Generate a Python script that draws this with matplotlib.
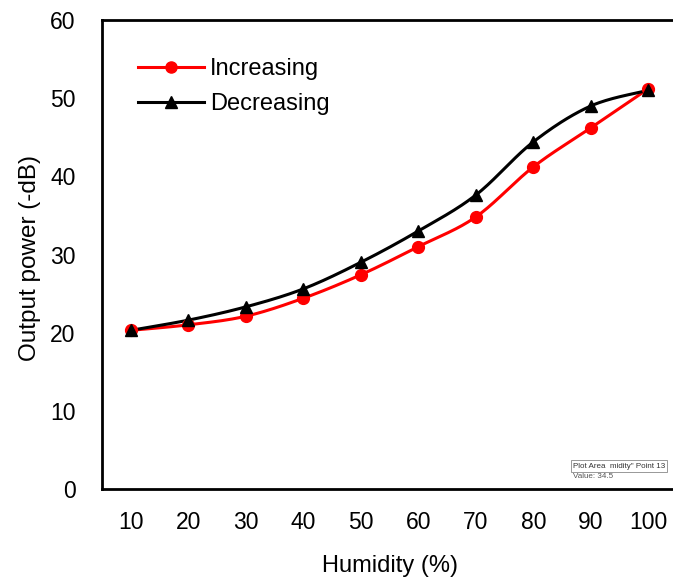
import numpy as np
import matplotlib
matplotlib.use("Agg")
import matplotlib.pyplot as plt

plt.rcParams["font.family"] = ["Liberation Sans", "DejaVu Sans"]

# data
humidity = ["10", "20", "30", "40", "50", "60", "70", "80", "90", "100"]
increasing = [20.3, 21.0, 22.1, 24.4, 27.4, 31.0, 34.8, 41.2, 46.2, 51.2]
decreasing = [20.3, 21.6, 23.3, 25.6, 29.0, 33.0, 37.6, 44.4, 49.0, 51.0]


def smooth(x, y, n=30):
    # excel style smoothed line (catmull-rom through the points)
    x = np.asarray(x, float)
    y = np.asarray(y, float)
    pts = np.column_stack([x, y])
    ext = np.vstack([pts[0], pts, pts[-1]])
    out = []
    t = np.linspace(0, 1, n)[:, None]
    for i in range(len(pts) - 1):
        p0 = ext[i + 1]
        p3 = ext[i + 2]
        c1 = p0 + (ext[i + 2] - ext[i]) / 6
        c2 = p3 - (ext[i + 3] - ext[i + 1]) / 6
        seg = (1 - t) ** 3 * p0 + 3 * (1 - t) ** 2 * t * c1 + 3 * (1 - t) * t ** 2 * c2 + t ** 3 * p3
        out.append(seg if i == 0 else seg[1:])
    out = np.vstack(out)
    return out[:, 0], out[:, 1]


fig = plt.figure(figsize=(6.73, 5.84), dpi=100)
ax = fig.add_axes([102 / 673, 95 / 584, 575 / 673, 469 / 584])

xpos = np.arange(1, len(humidity) + 1)

sx, sy = smooth(xpos, increasing)
ax.plot(sx, sy, color="red", lw=2.2, zorder=3)
ax.plot(xpos, increasing, "o", color="red", ms=8.5, zorder=4)

sx, sy = smooth(xpos, decreasing)
ax.plot(sx, sy, color="black", lw=2.2, zorder=3)
ax.plot(xpos, decreasing, "^", color="black", ms=9, zorder=5)

# legend handles
h1, = ax.plot([], [], "-o", color="red", lw=2.2, ms=8, label="Increasing")
h2, = ax.plot([], [], "-^", color="black", lw=2.2, ms=8, label="Decreasing")
ax.legend(handles=[h1, h2], loc="upper left", bbox_to_anchor=(138 / 673, 1 - 58 / 584),
          bbox_transform=fig.transFigure, frameon=False, fontsize=17,
          handlelength=2.8, handletextpad=0.25, labelspacing=0.55,
          borderpad=0, borderaxespad=0)

ax.set_xlim(0.5, 10.5)
ax.set_ylim(0, 60)
ax.set_xticks(xpos)
ax.set_xticklabels(humidity)
ax.set_yticks(np.arange(0, 61, 10))
ax.tick_params(length=0, labelsize=16.5)
ax.tick_params(axis="y", pad=19)
ax.tick_params(axis="x", pad=16)
for s in ax.spines.values():
    s.set_linewidth(2)

fig.text(390 / 673, 1 - 566 / 584, "Humidity (%)", fontsize=17, ha="center", va="center")
fig.text(30 / 673, 1 - 258 / 584, "Output power (-dB)", fontsize=17.5, ha="center", va="center",
         rotation=90)

# leftover excel tooltip in the screenshot
fig.text(573 / 673, 1 - 466 / 584, 'Plot Area  midity" Point 13', fontsize=5.8, ha="left",
         va="center", color="#333333",
         bbox=dict(boxstyle="square,pad=0.25", fc="white", ec="#888888", lw=0.6))
fig.text(573 / 673, 1 - 477 / 584, "Value: 34.5", fontsize=5.8, ha="left", va="center",
         color="#555555")

fig.savefig("out.png", dpi=100)
